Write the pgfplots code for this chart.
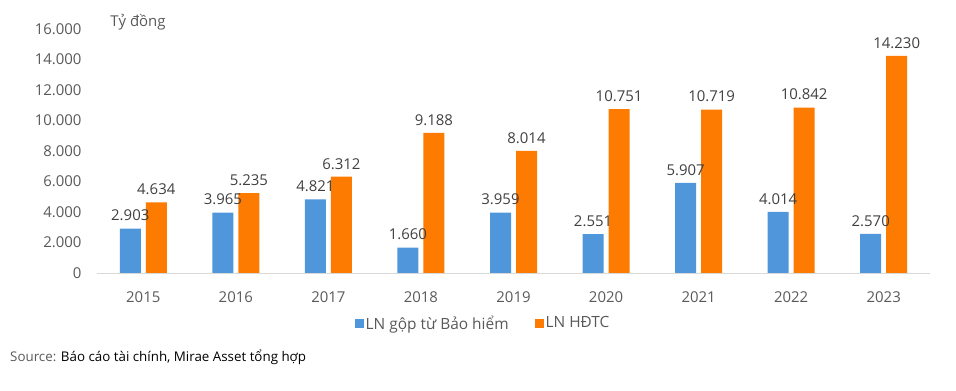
\documentclass[border=0pt]{standalone}
\usepackage{pgfplots}
\pgfplotsset{compat=1.18}
\usepackage{fontspec}
\setmainfont{Open Sans}
\definecolor{cblue}{RGB}{79,151,218}
\definecolor{corange}{RGB}{252,123,0}
\definecolor{tgrey}{RGB}{89,89,89}
\definecolor{lgrey}{RGB}{64,64,64}
\definecolor{axgrey}{RGB}{217,217,217}
\begin{document}
\begin{tikzpicture}
\path[use as bounding box] (0,0) rectangle (956bp,391bp);
\begin{axis}[
  at={(97bp,118bp)}, anchor=south west,
  scale only axis, width=833bp, height=244bp,
  xmin=-0.5, xmax=8.5, ymin=0, ymax=16000,
  ybar=5bp, bar width=21bp,
  axis x line*=bottom, axis y line*=left,
  x axis line style={draw=axgrey, line width=1pt, -},
  y axis line style={draw=none},
  xtick={0,...,8},
  xticklabels={2015,2016,2017,2018,2019,2020,2021,2022,2023},
  ytick={0,2000,...,16000},
  major tick length=0pt,
  scaled y ticks=false,
  /pgf/number format/assume math mode=true,
  /pgf/number format/.cd, 1000 sep={.}, fixed, precision=0, /pgfplots/.cd,
  tick label style={font=\fontsize{15}{18}\selectfont, text=tgrey},
  xticklabel style={yshift=-15bp},
  yticklabel style={xshift=-12bp},
  nodes near coords,
  every node near coord/.append style={font=\fontsize{15}{18}\selectfont, text=lgrey, yshift=4bp},
  legend columns=2,
  legend style={at={(0.4634,-0.205)}, anchor=center, draw=none, fill=none,
    font=\fontsize{15.5}{18}\selectfont, text=tgrey,
    /tikz/every even column/.append style={column sep=24bp}},
  legend image code/.code={\fill[#1] (0bp,-4.5bp) rectangle (9bp,4.5bp);},
]
\addplot[fill=cblue, draw=none] coordinates {(0,2903) (1,3965) (2,4821) (3,1660) (4,3959) (5,2551) (6,5907) (7,4014) (8,2570)};
\addlegendentry{LN gộp từ Bảo hiểm}
\addplot[fill=corange, draw=none] coordinates {(0,4634) (1,5235) (2,6312) (3,9188) (4,8014) (5,10751) (6,10719) (7,10842) (8,14230)};
\addlegendentry{LN HĐTC}
\end{axis}
\node[anchor=center, font=\fontsize{15}{18}\selectfont, text=tgrey] at (138bp,369bp) {Tỷ đồng};
\node[anchor=west, inner sep=0pt, font=\fontsize{13.4}{16}\selectfont] at (10bp,34bp) {\textcolor{tgrey}{Source:} Báo cáo tài chính, Mirae Asset tổng hợp};
\end{tikzpicture}
\end{document}
